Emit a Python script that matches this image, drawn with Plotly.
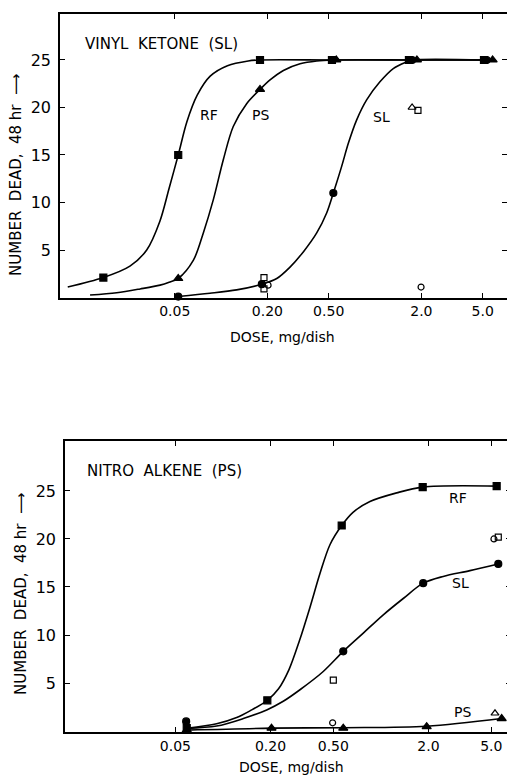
import plotly.graph_objects as go

# ---------------- data ----------------
# top panel: vinyl ketone (SL)
vk_rf_dose = [0.0172, 0.0527, 0.179, 0.525, 1.66, 5.1]
vk_rf_dead = [2.1, 15.0, 25, 25, 25, 25]
vk_ps_dose = [0.0527, 0.179, 0.56, 1.87, 5.8]
vk_ps_dead = [2.0, 21.9, 25, 25, 25]
vk_sl_dose = [0.0527, 0.184, 0.536, 1.74, 5.3]
vk_sl_dead = [0.1, 1.4, 11.0, 25, 25]
vk_open_sq_dose = [0.19, 0.19, 1.90]
vk_open_sq_dead = [2.1, 0.9, 19.7]
vk_open_ci_dose = [0.202, 1.99]
vk_open_ci_dead = [1.3, 1.1]
vk_open_tr_dose = [1.74]
vk_open_tr_dead = [20.0]

# fitted curves
vk_rf_curve_dose = [0.0101, 0.0172, 0.0256, 0.0329, 0.0400, 0.0460, 0.0527, 0.0600,
                    0.0700, 0.0850, 0.110, 0.150, 0.179, 0.525, 1.66, 5.1]
vk_rf_curve_dead = [1.1, 2.1, 3.3, 5.0, 8.0, 11.5, 15.0, 18.5, 21.3, 23.3, 24.4, 24.9,
                    25, 25, 25, 25]
vk_ps_curve_dose = [0.0141, 0.0210, 0.0298, 0.0402, 0.046, 0.0527, 0.066, 0.0767, 0.0891,
                    0.1034, 0.120, 0.1466, 0.179, 0.208, 0.254, 0.326, 0.418, 0.536, 1.87, 5.8]
vk_ps_curve_dead = [0.26, 0.5, 0.9, 1.3, 1.6, 2.0, 3.9, 6.8, 10.3, 14.5, 18.0, 20.4, 21.9,
                    22.9, 23.9, 24.6, 24.9, 25, 25, 25]
vk_sl_curve_dose = [0.0527, 0.0847, 0.1262, 0.184, 0.230, 0.2805, 0.342, 0.418, 0.485,
                    0.536, 0.607, 0.670, 0.760, 0.882, 1.076, 1.313, 1.603, 1.74, 5.3]
vk_sl_curve_dead = [0.1, 0.44, 0.8, 1.4, 2.0, 3.2, 4.8, 6.8, 8.9, 11.0, 13.8, 16.2,
                    18.7, 20.8, 22.7, 24.1, 24.8, 25, 25]

# bottom panel: nitro alkene (PS)
na_rf_dose = [0.059, 0.191, 0.565, 1.84, 5.41]
na_rf_dead = [0.3, 3.2, 21.4, 25.4, 25.5]
na_sl_dose = [0.0585, 0.578, 1.854, 5.54]
na_sl_dead = [1.0, 8.3, 15.4, 17.4]
na_ps_dose = [0.059, 0.203, 0.578, 1.95, 5.82]
na_ps_dead = [0.1, 0.3, 0.3, 0.45, 1.3]
na_open_sq_dose = [0.50, 5.54]
na_open_sq_dead = [5.3, 20.2]
na_open_ci_dose = [0.495, 5.2]
na_open_ci_dead = [0.86, 20.0]
na_open_tr_dose = [5.28]
na_open_tr_dead = [1.85]

na_rf_curve_dose = [0.0589, 0.0912, 0.1222, 0.1483, 0.191, 0.225, 0.262, 0.305, 0.356,
                    0.4115, 0.476, 0.565, 0.669, 0.853, 1.259, 1.84, 5.41]
na_rf_curve_dead = [0.28, 0.75, 1.4, 2.1, 3.2, 4.4, 6.4, 9.4, 12.9, 16.4, 19.4, 21.4,
                    22.8, 23.9, 24.8, 25.4, 25.5]
na_sl_curve_dose = [0.0589, 0.0912, 0.1346, 0.1893, 0.241, 0.3074, 0.4317, 0.578,
                    0.774, 1.036, 1.386, 1.854, 2.482, 3.664, 5.54]
na_sl_curve_dead = [0.28, 0.52, 1.3, 2.2, 3.1, 4.3, 6.2, 8.3, 10.2, 12.1, 13.8, 15.4,
                    16.1, 16.7, 17.4]
na_ps_curve_dose = [0.059, 0.203, 0.578, 1.95, 5.82]
na_ps_curve_dead = [0.1, 0.3, 0.35, 0.5, 1.3]

tick_vals = [0.05, 0.2, 0.5, 2, 5]
tick_text = ['0.05', '0.20', '0.50', '2.0', '5.0']

FONT = 'DejaVu Sans'
# page body has an 8px margin, so the figure is shrunk by that much
OFF = 8
W, H = 515 - OFF, 778 - OFF


def fx(px):
    return (px - OFF) / W


def fy(py):
    return 1 - (py - OFF) / H


fig = go.Figure()


def add_curve(x, y, ax):
    fig.add_trace(go.Scatter(
        x=x, y=y, mode='lines', xaxis=ax[0], yaxis=ax[1],
        line=dict(color='black', width=1.6, shape='spline', smoothing=0.9),
        cliponaxis=False, hoverinfo='skip'))


def add_marks(x, y, ax, symbol, size=7):
    fig.add_trace(go.Scatter(
        x=x, y=y, mode='markers', xaxis=ax[0], yaxis=ax[1],
        marker=dict(symbol=symbol, size=size, color='black',
                    line=dict(color='black', width=1.2)),
        cliponaxis=False))


top = ('x', 'y')
bot = ('x2', 'y2')

add_curve(vk_rf_curve_dose, vk_rf_curve_dead, top)
add_curve(vk_ps_curve_dose, vk_ps_curve_dead, top)
add_curve(vk_sl_curve_dose, vk_sl_curve_dead, top)
add_marks(vk_rf_dose, vk_rf_dead, top, 'square')
add_marks(vk_ps_dose, vk_ps_dead, top, 'triangle-up', 8)
add_marks(vk_sl_dose, vk_sl_dead, top, 'circle')
add_marks(vk_open_sq_dose, vk_open_sq_dead, top, 'square-open', 6)
add_marks(vk_open_ci_dose, vk_open_ci_dead, top, 'circle-open', 6)
add_marks(vk_open_tr_dose, vk_open_tr_dead, top, 'triangle-up-open', 7)

add_curve(na_rf_curve_dose, na_rf_curve_dead, bot)
add_curve(na_sl_curve_dose, na_sl_curve_dead, bot)
add_curve(na_ps_curve_dose, na_ps_curve_dead, bot)
add_marks(na_rf_dose, na_rf_dead, bot, 'square')
add_marks(na_sl_dose, na_sl_dead, bot, 'circle')
add_marks(na_ps_dose, na_ps_dead, bot, 'triangle-up', 8)
add_marks(na_open_sq_dose, na_open_sq_dead, bot, 'square-open', 6)
add_marks(na_open_ci_dose, na_open_ci_dead, bot, 'circle-open', 6)
add_marks(na_open_tr_dose, na_open_tr_dead, bot, 'triangle-up-open', 7)

axis_style = dict(
    showline=True, linecolor='black', linewidth=1.6, mirror='ticks',
    ticks='inside', ticklen=5, tickwidth=1.2, tickcolor='black',
    showgrid=False, zeroline=False,
)

fig.update_layout(
    width=W, height=H,
    margin=dict(l=0, r=0, t=0, b=0, pad=0),
    plot_bgcolor='white', paper_bgcolor='white',
    showlegend=False,
    font=dict(family=FONT, color='black', size=14),
    xaxis=dict(type='log', range=[-2.046, 0.857], domain=[fx(60), fx(507)],
               anchor='y', tickvals=tick_vals, ticktext=tick_text,
               tickfont=dict(size=14), **axis_style),
    yaxis=dict(range=[0, 29.84], domain=[fy(297.5), fy(14)],
               anchor='x', tickvals=[5, 10, 15, 20, 25], ticklabelstandoff=4,
               tickfont=dict(size=16), **axis_style),
    xaxis2=dict(type='log', range=[-2.0, 0.824], domain=[fx(65), fx(511)],
                anchor='y2', tickvals=tick_vals, ticktext=tick_text,
                tickfont=dict(size=14), **axis_style),
    yaxis2=dict(range=[-0.1, 30.2], domain=[fy(732), fy(441)],
                anchor='x2', tickvals=[5, 10, 15, 20, 25], ticklabelstandoff=4,
                tickfont=dict(size=16), **axis_style),
)


def note(text, px, py, size=14, angle=0, xanchor='center'):
    fig.add_annotation(text=text, x=fx(px), y=fy(py), xref='paper', yref='paper',
                       showarrow=False, textangle=angle, xanchor=xanchor,
                       yanchor='middle', font=dict(family=FONT, size=size, color='black'))


# panel titles
note('VINYL  KETONE  (SL)', 83, 44, 15, xanchor='left')
note('NITRO  ALKENE  (PS)', 85, 471, 15, xanchor='left')

# curve labels
note('RF', 209, 115, 14)
note('PS', 260, 115, 14)
note('SL', 381, 117, 14)
note('RF', 458, 498, 14)
note('SL', 460, 583, 14)
note('PS', 462, 712, 14)

# axis titles
note('DOSE, mg/dish', 282, 337, 14)
note('DOSE, mg/dish', 291, 767, 14)
note('NUMBER  DEAD,  48 hr  ⟶', 16, 175, 15, angle=-90)
note('NUMBER  DEAD,  48 hr  ⟶', 21, 594, 15, angle=-90)

fig.write_html("out.html")
